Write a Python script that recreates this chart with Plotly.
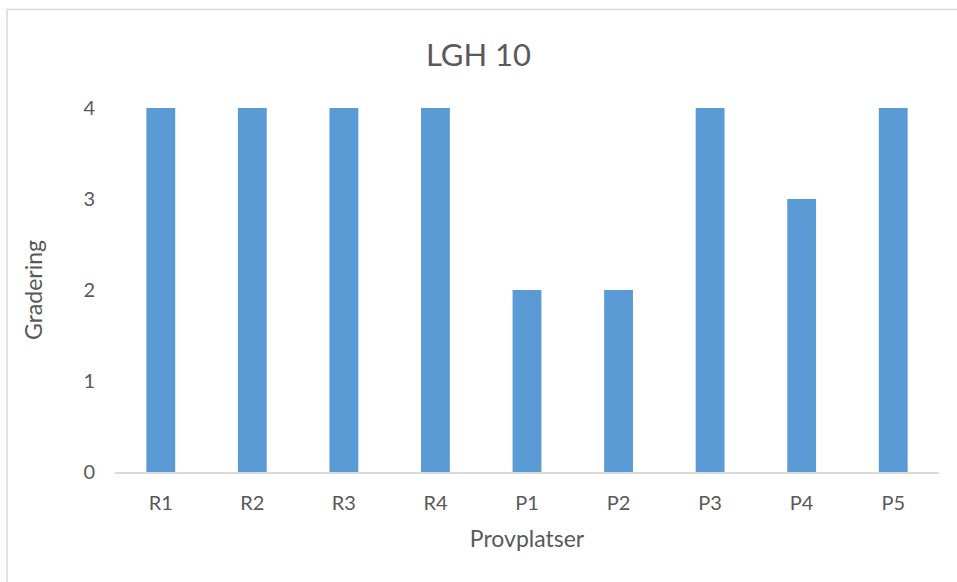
import plotly.graph_objects as go

# Provplatser och gradering för LGH 10
categories = ["R1", "R2", "R3", "R4", "P1", "P2", "P3", "P4", "P5"]
gradering = [4, 4, 4, 4, 2, 2, 4, 3, 4]

FONT = "Lato, Carlito, Calibri, sans-serif"
TEXT = "#595959"

fig = go.Figure(
    go.Bar(
        x=categories,
        y=gradering,
        marker=dict(color="#5B9BD5", line=dict(width=0)),
    )
)

fig.update_layout(
    width=957,
    height=582,
    margin=dict(l=115, r=18, t=108, b=110),
    paper_bgcolor="white",
    plot_bgcolor="white",
    bargap=0.685,
    showlegend=False,
    font=dict(family=FONT, color=TEXT, size=18),
    title=dict(
        text="LGH 10",
        x=0.5,
        xanchor="center",
        y=1 - 55 / 582,
        yanchor="middle",
        font=dict(family=FONT, size=31, color=TEXT),
    ),
    xaxis=dict(
        showline=True,
        linecolor="#d9d9d9",
        linewidth=1.5,
        ticks="",
        showgrid=False,
        ticklabelstandoff=12,
        tickfont=dict(size=20, color=TEXT),
        title=dict(text="Provplatser", standoff=18,
                   font=dict(size=23, color=TEXT)),
    ),
    yaxis=dict(
        range=[0, 4],
        dtick=1,
        showline=False,
        showgrid=False,
        zeroline=False,
        ticks="",
        ticklabelstandoff=19,
        tickfont=dict(size=20, color=TEXT),
        title=dict(text="Gradering", standoff=34,
                   font=dict(size=23, color=TEXT)),
    ),
    shapes=[
        dict(
            type="rect",
            xref="paper", yref="paper",
            x0=(7 - 115) / 824, x1=1.2,
            y0=-0.6, y1=(472 - 9.5) / 364,
            line=dict(color="#d9d9d9", width=1.5),
            fillcolor="rgba(0,0,0,0)",
            layer="below",
        )
    ],
)

fig.write_html("out.html")
